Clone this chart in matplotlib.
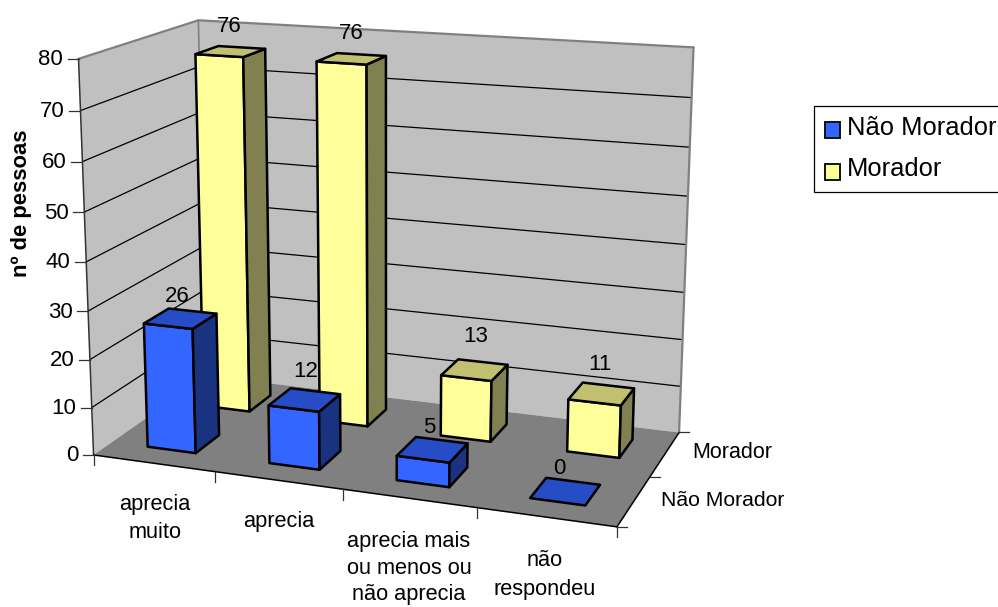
import numpy as np
import matplotlib
matplotlib.use("Agg")
import matplotlib.pyplot as plt
from matplotlib.patches import Polygon, Rectangle

plt.rcParams["font.family"] = ["Liberation Sans", "DejaVu Sans"]

# chart values
categories = ["aprecia\nmuito", "aprecia", "aprecia mais\nou menos ou\nnão aprecia", "não\nrespondeu"]
series_names = ["Não Morador", "Morador"]
nao_morador = [26, 12, 5, 0]
morador = [76, 76, 13, 11]
z_ticks = [0, 10, 20, 30, 40, 50, 60, 70, 80]

# colours per series: front, top, side
blue = ("#3366FF", "#264DC6", "#1A3380")
yellow = ("#FFFF99", "#C0C070", "#808050")

# camera: box corners (category, series, value) and where they land on the canvas
box_3d = np.array([[0, 0, 0], [4, 0, 0], [4, 2, 0], [0, 2, 0],
                   [0, 0, 80], [0, 2, 80], [4, 2, 80]], dtype=float)
box_px = np.array([[94, 454.7], [617.3, 526.7], [679, 432.7], [206, 376],
                   [77.7, 59.3], [199.3, 20], [693.3, 47.3]])

rows = []
rhs = []
for (x, y, z), (u, v) in zip(box_3d, box_px):
    rows.append([x, y, z, 1, 0, 0, 0, 0, -u * x, -u * y, -u * z])
    rows.append([0, 0, 0, 0, x, y, z, 1, -v * x, -v * y, -v * z])
    rhs += [u, v]
cam = np.linalg.lstsq(np.array(rows), np.array(rhs), rcond=None)[0]
cam = np.append(cam, 1).reshape(3, 4)


def project(x, y, z):
    u, v, w = cam @ np.array([x, y, z, 1.0])
    return u / w, v / w


def face(ax, pts, color, edge="none", lw=0, z=1):
    ax.add_patch(Polygon([project(*p) for p in pts], closed=True, facecolor=color,
                         edgecolor=edge, linewidth=lw, joinstyle="round", zorder=z))


def line(ax, a, b, color="black", lw=0.8, z=2):
    ax.plot(*zip(project(*a), project(*b)), color=color, lw=lw, zorder=z, solid_capstyle="round")


def bar(ax, x0, x1, y0, y1, h, colors, z):
    front, top, side = colors
    if h > 0:
        face(ax, [(x0, y0, 0), (x1, y0, 0), (x1, y0, h), (x0, y0, h)], front, "black", 1.8, z)
        face(ax, [(x1, y0, 0), (x1, y1, 0), (x1, y1, h), (x1, y0, h)], side, "black", 1.8, z)
    face(ax, [(x0, y0, h), (x1, y0, h), (x1, y1, h), (x0, y1, h)], top, "black", 1.8, z)


fig = plt.figure(figsize=(9.98, 6.07), dpi=100)
ax = fig.add_axes([0, 0, 1, 1])
ax.set_xlim(0, 998)
ax.set_ylim(607, 0)
ax.axis("off")

# walls and floor
face(ax, [(0, 0, 0), (0, 2, 0), (0, 2, 80), (0, 0, 80)], "#C0C0C0")
face(ax, [(0, 2, 0), (4, 2, 0), (4, 2, 80), (0, 2, 80)], "#C0C0C0")
face(ax, [(0, 0, 0), (4, 0, 0), (4, 2, 0), (0, 2, 0)], "#808080")

# gridlines
for t in z_ticks[1:-1]:
    line(ax, (0, 0, t), (0, 2, t), lw=0.9)
    line(ax, (0, 2, t), (4, 2, t), lw=0.9)

# wall borders
line(ax, (0, 0, 80), (0, 2, 80), "#808080", 1.6)
line(ax, (0, 2, 80), (4, 2, 80), "#808080", 1.6)
line(ax, (4, 2, 80), (4, 2, 0), "#808080", 1.6)
line(ax, (0, 2, 80), (0, 2, 0), "#808080", 1.2)

# axis lines
line(ax, (0, 0, 0), (0, 0, 80), "#333333", 1.1)
line(ax, (0, 0, 0), (4, 0, 0), "black", 1.1)
line(ax, (4, 0, 0), (4, 2, 0), "black", 1.1)

# value axis ticks and labels
for t in z_ticks:
    u, v = project(0, 0, t)
    ax.plot([u - 11, u], [v, v], color="#333333", lw=0.9, zorder=2)
    ax.text(u - 15.5, v + 1, str(t), ha="right", va="center", fontsize=16, color="black")

# category ticks
for i in range(5):
    u, v = project(i, 0, 0)
    ax.plot([u, u], [v, v + 10.5], color="#333333", lw=0.9, zorder=2)

# series axis ticks
for j in range(3):
    u, v = project(4, j, 0)
    ax.plot([u, u + 10], [v, v], color="#333333", lw=0.9, zorder=2)

# bars, back row first
bar_x = (0.30, 0.70)
bar_y = (0.30, 0.72)
for j, (vals, colors) in reversed(list(enumerate(zip([nao_morador, morador], [blue, yellow])))):
    for i, h in enumerate(vals):
        bar(ax, i + bar_x[0], i + bar_x[1], j + bar_y[0], j + bar_y[1], h, colors, 3 + (1 - j))

# value labels, nudged clear of the bar tops
label_nudge = {(0, 0): (-3, -22), (1, 0): (1, -28), (2, 0): (-3, -22), (3, 0): (-6, -23),
               (0, 1): (-1, -25), (1, 1): (0, -25), (2, 1): (1, -33), (3, 1): (-2, -29)}
for j, vals in enumerate([nao_morador, morador]):
    for i, h in enumerate(vals):
        u, v = project(i + sum(bar_x) / 2, j + sum(bar_y) / 2, h)
        du, dv = label_nudge[(i, j)]
        ax.text(u + du, v + dv, str(h), ha="center", va="center", fontsize=16, color="black", zorder=6)

# category labels
cat_pos = [(155, 518.5), (279, 521.5), (409, 568), (545, 575)]
cat_spacing = [1.47, 1.47, 1.36, 1.47]
for name, (u, v), sp in zip(categories, cat_pos, cat_spacing):
    ax.text(u, v, name, ha="center", va="center", fontsize=15.7, linespacing=sp, color="black")

# series axis labels
ax.text(732, 452, series_names[1], ha="center", va="center", fontsize=15.5, color="black")
ax.text(723, 500, series_names[0], ha="center", va="center", fontsize=15.2, color="black")

ax.text(22, 203, "nº de pessoas", rotation=90, ha="center", va="center",
        fontsize=15.8, fontweight="bold", color="black")

# legend box runs off the right edge
ax.add_patch(Rectangle((814.5, 105.5), 200, 86, facecolor="white", edgecolor="black", lw=0.9, zorder=5))
for name, colors, top_y, text_y in zip(series_names, [blue, yellow], [122, 164], [128, 169.5]):
    ax.add_patch(Rectangle((825, top_y), 15.5, 15.5, facecolor=colors[0], edgecolor="#111111", lw=1.4, zorder=6))
    ax.text(847, text_y, name, ha="left", va="center", fontsize=18.4, color="black", zorder=6)

fig.savefig("out.png", dpi=100)
